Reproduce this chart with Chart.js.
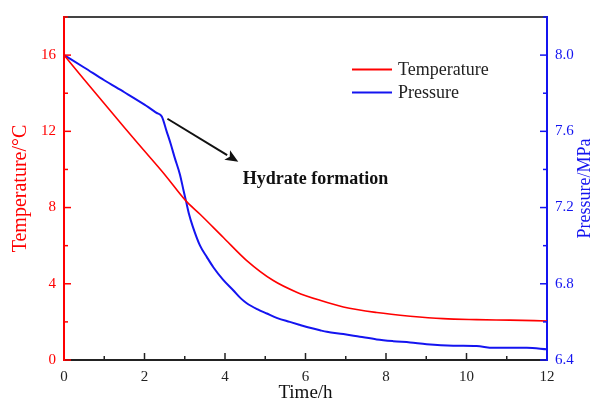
<!DOCTYPE html>
<html>
<head>
<meta charset="utf-8">
<script src="https://cdn.jsdelivr.net/npm/chart.js@4/dist/chart.umd.min.js"></script>
<style>
  html, body { margin: 0; padding: 0; background: #fff; }
  #wrap { width: 592px; height: 407px; position: relative; }
</style>
</head>
<body>
<div id="wrap"><canvas id="c" width="592" height="407"></canvas></div>
<script>
// ---- Data ----
const tempTime = [0, 0.5, 1, 1.5, 2, 2.5, 3.03, 3.38, 3.96, 4.54, 5.2, 5.78, 6.36, 6.94, 7.77, 8.6, 9.42, 10.25, 11.08, 12];
const temperature = [16, 14.72, 13.46, 12.2, 10.97, 9.74, 8.35, 7.65, 6.43, 5.22, 4.17, 3.56, 3.13, 2.78, 2.49, 2.3, 2.17, 2.12, 2.09, 2.05];

const pressTime = [0, 0.5, 1, 1.5, 2, 2.3, 2.43, 2.55, 2.65, 2.75, 2.88, 2.97, 3.03, 3.1, 3.2, 3.38, 3.55, 3.71, 3.95, 4.21, 4.4, 4.54, 4.8, 5.04, 5.3, 5.61, 5.85, 6.11, 6.36, 6.53, 6.94, 7.35, 7.77, 8.18, 8.6, 9.01, 9.67, 10.25, 10.67, 11.5, 12];
const pressure = [8.0, 7.935, 7.868, 7.805, 7.74, 7.697, 7.678, 7.6, 7.535, 7.462, 7.374, 7.29, 7.235, 7.17, 7.10, 7.0, 6.94, 6.887, 6.822, 6.765, 6.722, 6.698, 6.667, 6.644, 6.62, 6.60, 6.585, 6.569, 6.556, 6.548, 6.536, 6.522, 6.508, 6.499, 6.492, 6.483, 6.475, 6.473, 6.464, 6.464, 6.456];

const xTicksLabelled = [0, 2, 4, 6, 8, 10, 12];
const tempTicksLabelled = [0, 4, 8, 12, 16];
const pressTicksLabelled = [6.4, 6.8, 7.2, 7.6, 8.0];

const seriesNames = ['Temperature', 'Pressure'];
const axisTitles = { x: 'Time/h', y: 'Temperature/°C', y1: 'Pressure/MPa' };
const annotationText = 'Hydrate formation';
// annotation arrow in data coordinates (time, temperature)
const arrowFrom = [2.57, 12.66];
const arrowTo = [4.33, 10.4];
const annotationAt = [4.44, 9.47];

const SERIF = "'Liberation Serif', 'Times New Roman', serif";
const RED = '#ff0000';
const BLUE = '#1414f0';

const near = (v, arr) => arr.some(a => Math.abs(a - v) < 1e-6);

const framePlugin = {
  id: 'frame',
  afterDraw(chart) {
    const ctx = chart.ctx;
    const a = chart.chartArea;
    const sx = chart.scales.x, sy = chart.scales.y, sy1 = chart.scales.y1;
    ctx.save();
    // top border
    ctx.strokeStyle = '#444';
    ctx.lineWidth = 2;
    ctx.beginPath(); ctx.moveTo(a.left, a.top); ctx.lineTo(a.right, a.top); ctx.stroke();

    // inward ticks
    ctx.lineWidth = 1.5;
    ctx.strokeStyle = '#222';
    sx.ticks.forEach(t => {
      const p = sx.getPixelForValue(t.value);
      const len = near(t.value, xTicksLabelled) ? 7 : 4;
      if (t.value <= 0 || t.value >= 12) return;
      ctx.beginPath(); ctx.moveTo(p, a.bottom); ctx.lineTo(p, a.bottom - len); ctx.stroke();
    });
    ctx.strokeStyle = RED;
    sy.ticks.forEach(t => {
      const p = sy.getPixelForValue(t.value);
      const len = near(t.value, tempTicksLabelled) ? 7 : 4;
      ctx.beginPath(); ctx.moveTo(a.left, p); ctx.lineTo(a.left + len, p); ctx.stroke();
    });
    ctx.strokeStyle = BLUE;
    sy1.ticks.forEach(t => {
      const p = sy1.getPixelForValue(t.value);
      const len = near(t.value, pressTicksLabelled) ? 7 : 4;
      ctx.beginPath(); ctx.moveTo(a.right, p); ctx.lineTo(a.right - len, p); ctx.stroke();
    });

    // axis titles
    ctx.textAlign = 'center';
    ctx.textBaseline = 'middle';
    ctx.fillStyle = '#111';
    ctx.font = '19px ' + SERIF;
    ctx.fillText(axisTitles.x, (a.left + a.right) / 2, 393);

    ctx.save();
    ctx.translate(21, (a.top + a.bottom) / 2);
    ctx.rotate(-Math.PI / 2);
    ctx.fillStyle = RED;
    ctx.font = '20px ' + SERIF;
    ctx.fillText(axisTitles.y, 0, 0);
    ctx.restore();

    ctx.save();
    ctx.translate(585, (a.top + a.bottom) / 2);
    ctx.rotate(-Math.PI / 2);
    ctx.fillStyle = BLUE;
    ctx.font = '18px ' + SERIF;
    ctx.fillText(axisTitles.y1, 0, 0);
    ctx.restore();

    // legend
    const ds = chart.data.datasets;
    const legY = [69.5, 92.5];
    ctx.textAlign = 'left';
    ctx.font = '18px ' + SERIF;
    ds.forEach((d, i) => {
      ctx.strokeStyle = d.borderColor;
      ctx.lineWidth = 2;
      ctx.beginPath(); ctx.moveTo(352, legY[i]); ctx.lineTo(392, legY[i]); ctx.stroke();
      ctx.fillStyle = '#222';
      ctx.fillText(d.label, 398, legY[i] + 1);
    });

    // annotation arrow
    const x0 = sx.getPixelForValue(arrowFrom[0]), y0 = sy.getPixelForValue(arrowFrom[1]);
    const x1 = sx.getPixelForValue(arrowTo[0]), y1 = sy.getPixelForValue(arrowTo[1]);
    const ang = Math.atan2(y1 - y0, x1 - x0);
    const head = 13, hw = 5.5;
    const bx = x1 - head * Math.cos(ang), by = y1 - head * Math.sin(ang);
    ctx.strokeStyle = '#111';
    ctx.fillStyle = '#111';
    ctx.lineWidth = 2;
    ctx.beginPath(); ctx.moveTo(x0, y0); ctx.lineTo(bx, by); ctx.stroke();
    ctx.beginPath();
    ctx.moveTo(x1, y1);
    ctx.lineTo(bx + hw * Math.sin(ang), by - hw * Math.cos(ang));
    ctx.lineTo(bx + 3 * Math.cos(ang), by + 3 * Math.sin(ang));
    ctx.lineTo(bx - hw * Math.sin(ang), by + hw * Math.cos(ang));
    ctx.closePath(); ctx.fill();

    ctx.font = 'bold 18px ' + SERIF;
    ctx.fillStyle = '#111';
    ctx.textBaseline = 'middle';
    ctx.fillText(annotationText, sx.getPixelForValue(annotationAt[0]), sy.getPixelForValue(annotationAt[1]));
    ctx.restore();
  }
};

new Chart(document.getElementById('c'), {
  type: 'line',
  data: {
    datasets: [
      {
        label: seriesNames[0],
        data: tempTime.map((t, i) => ({ x: t, y: temperature[i] })),
        borderColor: RED, borderWidth: 1.6, pointRadius: 0, cubicInterpolationMode: 'monotone',
        yAxisID: 'y', fill: false
      },
      {
        label: seriesNames[1],
        data: pressTime.map((t, i) => ({ x: t, y: pressure[i] })),
        borderColor: BLUE, borderWidth: 2, pointRadius: 0, cubicInterpolationMode: 'monotone',
        yAxisID: 'y1', fill: false
      }
    ]
  },
  options: {
    responsive: false,
    animation: false,
    events: [],
    layout: { padding: { top: 15, left: 0, right: 0, bottom: 0 } },
    plugins: { legend: { display: false }, tooltip: { enabled: false } },
    scales: {
      x: {
        type: 'linear', min: 0, max: 12,
        grid: { display: false, drawTicks: false },
        border: { display: true, color: '#222', width: 2 },
        ticks: {
          stepSize: 1, padding: 8, color: '#222', maxRotation: 0, autoSkip: false,
          font: { family: SERIF, size: 15 },
          callback: v => near(v, xTicksLabelled) ? String(v) : ''
        },
        afterFit: s => { s.height = 47; }
      },
      y: {
        type: 'linear', position: 'left', min: 0, max: 18,
        grid: { display: false, drawTicks: false },
        border: { display: true, color: RED, width: 2 },
        ticks: {
          stepSize: 2, padding: 8, color: RED, autoSkip: false,
          font: { family: SERIF, size: 15 },
          callback: v => near(v, tempTicksLabelled) ? String(v) : ''
        },
        afterFit: s => { s.width = 64; }
      },
      y1: {
        type: 'linear', position: 'right', min: 6.4, max: 8.2,
        grid: { display: false, drawTicks: false },
        border: { display: true, color: BLUE, width: 2 },
        ticks: {
          stepSize: 0.2, padding: 8, color: BLUE, autoSkip: false,
          font: { family: SERIF, size: 15 },
          callback: v => near(v, pressTicksLabelled) ? v.toFixed(1) : ''
        },
        afterFit: s => { s.width = 45; }
      }
    }
  },
  plugins: [framePlugin]
});
</script>
</body>
</html>
